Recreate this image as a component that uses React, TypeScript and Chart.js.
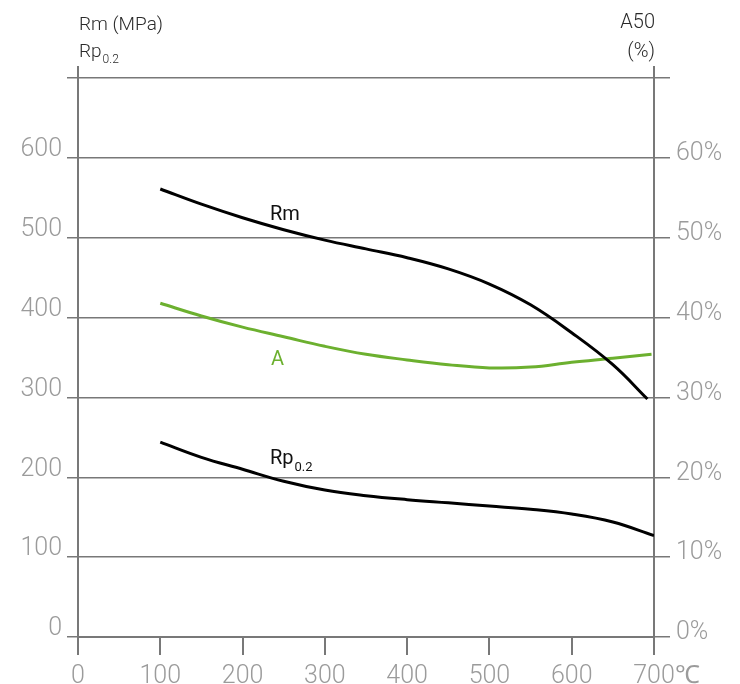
import React, { useEffect, useRef } from 'react';
import { Chart, registerables } from 'chart.js';

Chart.register(...registerables);

// ---- Data ----
const xTicks = [0, 100, 200, 300, 400, 500, 600, 700];
const leftTicks = [0, 100, 200, 300, 400, 500, 600];
const rightTicks = [0, 10, 20, 30, 40, 50, 60];

const rmTemps = [100, 150, 200, 250, 300, 350, 400, 450, 500, 550, 600, 650, 692];
const rmValues = [561, 542, 525, 510, 497, 486, 475, 461, 442, 416, 381, 341, 298];

const rpTemps = [100, 150, 200, 250, 300, 350, 400, 450, 500, 550, 600, 650, 700];
const rpValues = [244, 225, 210, 195, 184, 177, 172, 168, 164, 160, 154, 144, 127];

const aTemps = [100, 150, 200, 250, 300, 350, 400, 450, 500, 550, 600, 650, 697];
const aValues = [41.8, 40.2, 38.8, 37.6, 36.4, 35.4, 34.7, 34.1, 33.7, 33.8, 34.4, 34.9, 35.4];

const GRID = '#787878';
const TICK_TEXT = '#9b9b9b';
const GREEN = '#6cb02f';
const FONT = 'Roboto';

const Y_MAX = (700 * 570) / 559;
const Y1_MAX = Y_MAX / 10;

const textPlugin = {
  id: 'texts',
  afterDraw(chart: any) {
    const ctx = chart.ctx as CanvasRenderingContext2D;
    ctx.save();
    ctx.textBaseline = 'alphabetic';
    // axis titles
    ctx.fillStyle = '#2a2a2a';
    ctx.font = `300 19px ${FONT}`;
    ctx.textAlign = 'left';
    ctx.fillText('Rm (MPa)', 79, 30);
    ctx.fillText('Rp', 79, 57);
    const rpW = ctx.measureText('Rp').width;
    ctx.font = `300 12px ${FONT}`;
    ctx.fillText('0.2', 79 + rpW + 1, 63);
    ctx.font = `300 20px ${FONT}`;
    ctx.textAlign = 'right';
    ctx.fillText('A50', 655, 28);
    ctx.fillText('(%)', 655, 57);

    // series labels
    ctx.textAlign = 'left';
    ctx.fillStyle = '#111';
    ctx.font = `400 20px ${FONT}`;
    ctx.fillText('Rm', 270, 220);
    ctx.fillText('Rp', 270, 464);
    const w2 = ctx.measureText('Rp').width;
    ctx.font = `400 13px ${FONT}`;
    ctx.fillText('0.2', 270 + w2 + 1, 471);
    ctx.fillStyle = GREEN;
    ctx.font = `400 20px ${FONT}`;
    ctx.fillText('A', 271, 365);

    // degree unit after last x tick
    const xs = chart.scales.x;
    ctx.fillStyle = TICK_TEXT;
    ctx.font = `300 25px ${FONT}`;
    const w700 = ctx.measureText('700').width;
    ctx.textBaseline = 'middle';
    ctx.textAlign = 'left';
    ctx.fillText('℃', xs.getPixelForValue(700) + w700 / 2, xs.top + 18 + 7 + 15);
    ctx.restore();
  },
};

export default function App() {
  const ref = useRef<HTMLCanvasElement | null>(null);
  useEffect(() => {
    if (!ref.current) return;
    const tickFont = { family: FONT, size: 25, weight: '300' as any };
    const lineStyle = { borderWidth: 3, pointRadius: 0, tension: 0.4 };
    const chart = new Chart(ref.current, {
      type: 'line',
      data: {
        datasets: [
          {
            label: 'Rm',
            data: rmTemps.map((t, i) => ({ x: t, y: rmValues[i] })),
            borderColor: '#000',
            ...lineStyle,
            yAxisID: 'y',
          },
          {
            label: 'Rp0.2',
            data: rpTemps.map((t, i) => ({ x: t, y: rpValues[i] })),
            borderColor: '#000',
            ...lineStyle,
            yAxisID: 'y',
          },
          {
            label: 'A',
            data: aTemps.map((t, i) => ({ x: t, y: aValues[i] })),
            borderColor: GREEN,
            ...lineStyle,
            yAxisID: 'y1',
          },
        ],
      },
      options: {
        responsive: false,
        animation: false,
        maintainAspectRatio: false,
        layout: { padding: { top: 67, left: 0, right: 0, bottom: 0 } },
        plugins: { legend: { display: false }, tooltip: { enabled: false } },
        scales: {
          x: {
            type: 'linear',
            min: 0,
            max: 700,
            afterBuildTicks: (s: any) => {
              s.ticks = xTicks.map((v) => ({ value: v }));
            },
            afterFit: (s: any) => {
              s.height = 47;
            },
            ticks: {
              color: TICK_TEXT,
              font: tickFont,
              padding: 7,
              maxRotation: 0,
              autoSkip: false,
              callback: (v: any) => String(v),
            },
            grid: { drawOnChartArea: false, tickLength: 18, color: GRID, lineWidth: 2 },
            border: { display: true, color: GRID, width: 2 },
          },
          y: {
            type: 'linear',
            position: 'left',
            min: 0,
            max: Y_MAX,
            afterBuildTicks: (s: any) => {
              s.ticks = [...leftTicks, 700].map((v) => ({ value: v }));
            },
            afterFit: (s: any) => {
              s.width = 78;
            },
            ticks: {
              color: TICK_TEXT,
              font: tickFont,
              padding: 5,
              labelOffset: -8,
              callback: (v: any) => (leftTicks.includes(v) ? String(v) : ''),
            },
            grid: { color: GRID, lineWidth: 1.5, tickLength: 11 },
            border: { display: true, color: GRID, width: 2 },
          },
          y1: {
            type: 'linear',
            position: 'right',
            min: 0,
            max: Y1_MAX,
            afterBuildTicks: (s: any) => {
              s.ticks = [...rightTicks, 70].map((v) => ({ value: v }));
            },
            afterFit: (s: any) => {
              s.width = 86;
            },
            ticks: {
              color: TICK_TEXT,
              font: tickFont,
              padding: 6,
              labelOffset: -4,
              callback: (v: any) => (rightTicks.includes(v) ? `${v}%` : ''),
            },
            grid: { drawOnChartArea: false, color: GRID, lineWidth: 1.5, tickLength: 16 },
            border: { display: true, color: GRID, width: 2 },
          },
        },
      },
      plugins: [textPlugin],
    });
    return () => chart.destroy();
  }, []);

  return (
    <div style={{ position: 'absolute', left: 0, top: 0, width: 740, height: 684, background: '#fff' }}>
      <canvas ref={ref} width={740} height={684} style={{ display: 'block' }} />
    </div>
  );
}
